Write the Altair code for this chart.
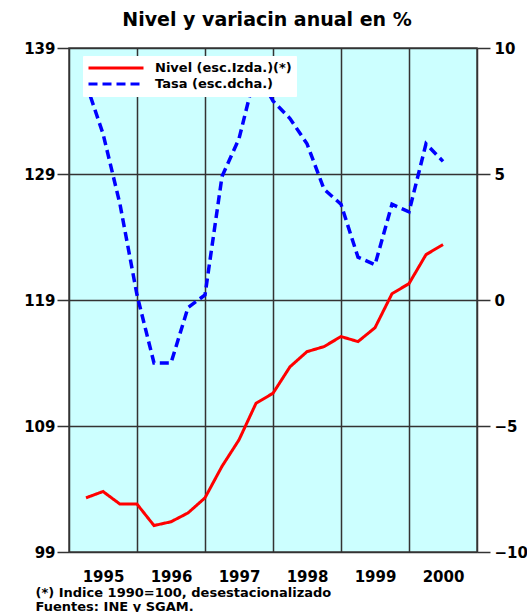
import altair as alt
import pandas as pd

# ---- data ----
years = [1995, 1996, 1997, 1998, 1999, 2000]
quarters = [(y, q) for y in years for q in (1, 2, 3, 4)][:22]
nivel = [103.3, 103.8, 102.8, 102.8, 101.1, 101.4, 102.1, 103.3,
         105.8, 107.9, 110.8, 111.6, 113.7, 114.9, 115.3, 116.1,
         115.7, 116.8, 119.5, 120.3, 122.6, 123.4]
tasa = [8.6, 6.6, 3.8, 0.2, -2.5, -2.5, -0.3, 0.2,
        4.9, 6.4, 9.1, 7.9, 7.2, 6.2, 4.4, 3.8,
        1.7, 1.4, 3.8, 3.5, 6.2, 5.5]
left_ticks = [99, 109, 119, 129, 139]
right_ticks = [-10, -5, 0, 5, 10]
series = ["Nivel (esc.Izda.)(*)", "Tasa (esc.dcha.)"]
title_text = "Nivel y variacin anual en %"
footnotes = ["(*) Indice 1990=100, desestacionalizado", "Fuentes: INE y SGAM."]

df = pd.DataFrame({
    "t": [y + q / 4 for (y, q) in quarters],
    "nivel": nivel,
    "tasa": tasa,
})

FONT = "DejaVu Sans"

color_scale = alt.Scale(domain=series, range=["#FF0000", "#0000FF"])
dash_scale = alt.Scale(domain=series, range=[[1, 0], [9, 5]])

x_enc = alt.X(
    "t:Q",
    scale=alt.Scale(domain=[1995, 2001], nice=False, zero=False),
    axis=alt.Axis(
        values=list(range(1995, 2002)),
        grid=True, ticks=False, domain=False,
        labelExpr="datum.value < 2001 ? format(datum.value, 'd') : ''",
        labelOffset=34, labelPadding=17, labelFlush=False, labelOverlap=False,
        labelFont=FONT, labelFontSize=15, labelFontWeight="bold", labelColor="black",
        title=footnotes, titleAnchor="start", titleAlign="left", titleX=-34, titleY=34,
        titleBaseline="top", titleLineHeight=14, titleFont=FONT, titleFontSize=13,
        titleFontWeight="bold", titleColor="black",
    ),
)

base = alt.Chart(df)

red = base.transform_calculate(serie=f"'{series[0]}'").mark_line(strokeWidth=3).encode(
    x=x_enc,
    y=alt.Y("nivel:Q", scale=alt.Scale(domain=[99, 139], nice=False, zero=False),
            axis=alt.Axis(values=left_ticks, orient="left", grid=True, domain=False,
                          tickSize=12, tickColor="#333333", tickWidth=1.5,
                          labelPadding=2, labelFont=FONT, labelFontSize=15,
                          labelFontWeight="bold", labelColor="black", title=None)),
    color=alt.Color("serie:N", scale=color_scale, title=None),
    strokeDash=alt.StrokeDash("serie:N", scale=dash_scale, title=None),
)

blue = base.transform_calculate(serie=f"'{series[1]}'").mark_line(strokeWidth=3.5).encode(
    x=x_enc,
    y=alt.Y("tasa:Q", scale=alt.Scale(domain=[-10, 10], nice=False, zero=False),
            axis=alt.Axis(values=right_ticks, orient="right", grid=False, domain=False,
                          tickSize=13, tickColor="#333333", tickWidth=1.5,
                          labelPadding=4, labelFont=FONT, labelFontSize=15,
                          labelFontWeight="bold", labelColor="black", title=None)),
    color=alt.Color("serie:N", scale=color_scale, title=None),
    strokeDash=alt.StrokeDash("serie:N", scale=dash_scale, title=None),
)

chart = alt.layer(red, blue).resolve_scale(y="independent").properties(
    width=408, height=504,
    autosize=alt.AutoSizeParams(type="none"),
    padding={"left": 69, "top": 48, "right": 50, "bottom": 60},
    title=alt.TitleParams(title_text, font=FONT, fontSize=19, fontWeight="bold",
                          color="black", anchor="middle", baseline="alphabetic",
                          offset=-4, dx=-6),
).configure_view(
    fill="#CCFFFF", stroke="#444444", strokeWidth=1.5,
).configure_axis(
    gridColor="#333333", gridWidth=1.5, gridOpacity=1,
).configure_legend(
    orient="none", legendX=14, legendY=8, fillColor="white", padding=4,
    symbolType="stroke", symbolSize=3025, symbolStrokeWidth=3, clipHeight=16,
    labelFont=FONT, labelFontSize=13, labelFontWeight="bold", labelColor="black",
    labelOffset=10, rowPadding=0, strokeColor="white",
)

chart.save("out.html", embed_options={"renderer": "svg", "actions": False})
